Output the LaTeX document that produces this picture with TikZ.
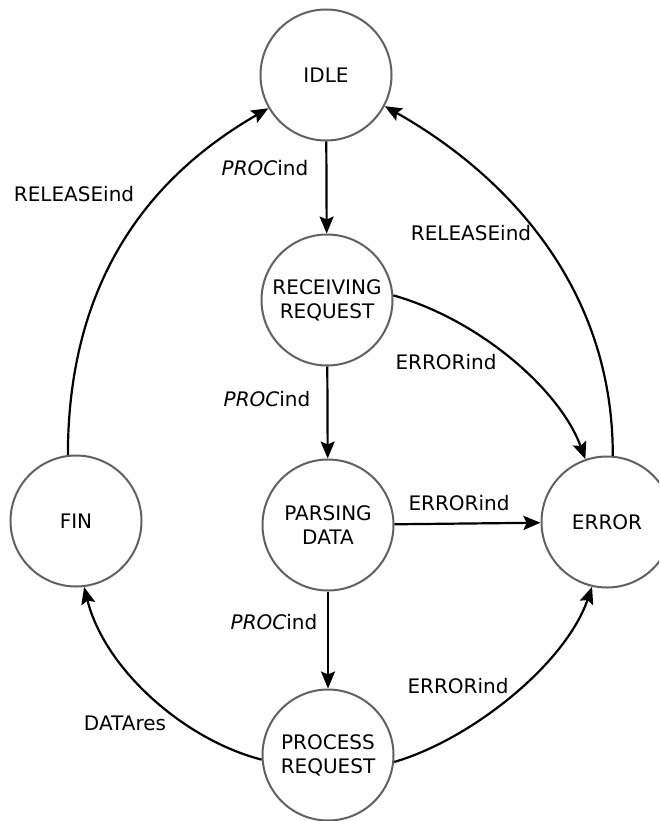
\documentclass[tikz,border=0pt]{standalone}
\usepackage{fontspec}
\setmainfont{DejaVu Sans}
\usetikzlibrary{arrows.meta}

\begin{document}
\begin{tikzpicture}[x=1pt, y=-1pt,
    state/.style={circle, draw=black!62, line width=2pt, fill=white,
      minimum size=131pt, inner sep=0pt, align=center,
      font=\fontsize{20}{24}\selectfont},
    trans/.style={line width=2.2pt, draw=black,
      -{Stealth[length=17pt, width=14pt, inset=3pt]}},
    lbl/.style={font=\fontsize{20}{24}\selectfont, inner sep=0pt}]

  \useasboundingbox (0,0) rectangle (659,821);
  \clip (0,0) rectangle (659,821);

  % states
  \node[state] (idle)  at (326,75)  {IDLE};
  \node[state] (recv)  at (327,300) {RECEIVING\\REQUEST};
  \node[state] (parse) at (328,525) {PARSING\\DATA};
  \node[state] (proc)  at (328,755) {PROCESS\\REQUEST};
  \node[state] (fin)   at (76,521)  {FIN};
  \node[state] (err)   at (607,522) {ERROR};

  % main processing chain
  \draw[trans] (idle) -- (recv);
  \draw[trans] (recv) -- (parse);
  \draw[trans] (parse) -- (proc);
  \draw[trans] (parse) -- (err);

  % curved transitions
  \draw[trans] (recv.4) .. controls (480,320) and (560,390) .. (err.109);
  \draw[trans] (err.85) .. controls (613,270) and (484,162) .. (idle.332);
  \draw[trans] (fin.97) .. controls (68,260) and (170,165) .. (idle.210);
  \draw[trans] (proc.184) .. controls (185,740) and (105,670) .. (fin.277);
  \draw[trans] (proc.-6) .. controls (470,740) and (565,665) .. (err.257);

  % transition labels
  \node[lbl] (l1) at (265,168) {\textit{PROC}ind};
  \node[lbl] (l2) at (267,399) {\textit{PROC}ind};
  \node[lbl] (l3) at (274,622) {\textit{PROC}ind};
  \node[lbl] (l4) at (74,194)  {RELEASEind};
  \node[lbl] (l5) at (471,233) {RELEASEind};
  \node[lbl] (l6) at (446,362) {ERRORind};
  \node[lbl] (l7) at (459,503) {ERRORind};
  \node[lbl] (l8) at (458,686) {ERRORind};
  \node[lbl] (l9) at (125,723) {DATAres};
\end{tikzpicture}
\end{document}
